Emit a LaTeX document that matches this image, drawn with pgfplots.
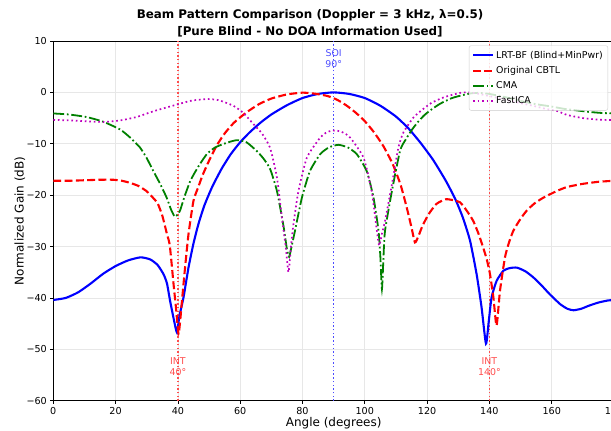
\documentclass[border=0pt]{standalone}
\usepackage{fontspec}
\setmainfont{DejaVu Sans}
\usepackage{pgfplots}
\pgfplotsset{compat=1.18}
\definecolor{mplgreen}{rgb}{0,0.5,0}
\definecolor{mplmag}{rgb}{0.75,0,0.75}
\definecolor{gridc}{HTML}{E7E7E7}
\definecolor{intred}{rgb}{1,0.3,0.3}
\definecolor{soiblue}{rgb}{0.3,0.3,1}
\begin{document}
\begin{tikzpicture}
\begin{axis}[
  at={(53.3pt,-400.7pt)}, anchor=south west,
  scale only axis, width=560.7pt, height=359.7pt,
  xmin=0, xmax=180, ymin=-60, ymax=10,
  xtick={0,20,...,180}, ytick={-60,-50,...,10},
  xticklabels={0,20,40,60,80,100,120,140,160,180},
  yticklabels={−60,−50,−40,−30,−20,−10,0,10},
  tick align=outside, xtick pos=bottom, ytick pos=left,
  major tick length=3pt,
  every tick/.style={black, line width=0.68pt},
  ticklabel style={font=\fontsize{9.6}{11}\selectfont},
  axis line style={line width=0.68pt},
  grid=major, major grid style={gridc, line width=0.68pt},
  xlabel={Angle (degrees)}, ylabel={Normalized Gain (dB)},
  label style={font=\fontsize{12}{14}\selectfont},
  xlabel style={at={(axis description cs:0.5,-0.0625)}, anchor=center},
  ylabel style={at={(axis description cs:-0.0595,0.5)}, anchor=center},
  legend cell align=left,
  legend style={at={(1,1)}, anchor=north east, xshift=-6pt, yshift=-4.5pt,
    font=\fontsize{9.4}{11}\selectfont, draw=black!20, fill=white,
    fill opacity=0.8, text opacity=1, rounded corners=2pt,
    nodes={inner ysep=3.3pt}},
  legend image code/.code={\draw[#1] (0pt,0pt) -- (20pt,0pt);},
]
% reference lines
\addplot[color=intred, line width=1.4pt, dash pattern=on 1.4pt off 2.3pt, forget plot] table {
x y
40 -60
40 10
};
\addplot[color=intred, line width=1.4pt, dash pattern=on 1.4pt off 2.3pt, forget plot] table {
x y
140 -60
140 10
};
\addplot[color=soiblue, line width=1.4pt, dash pattern=on 1.4pt off 2.3pt, forget plot] table {
x y
90 -60
90 10
};

\addplot[blue, line width=2.1pt, smooth, tension=0.35] coordinates {
(0,-40.4)(4,-40.0)(8,-38.9)(12,-37.2)(16,-35.3)(20,-33.8)(24,-32.7)(28,-32.1)
(31.1,-32.5)(33.5,-33.6)(35.4,-35.4)(36.5,-37.2)(37.5,-40.6)(38.8,-44.5)(39.7,-46.7)
(40.5,-43.5)(41.8,-39.9)(43.4,-34.1)(45,-29.4)(46.6,-25.6)(48.5,-22.0)(51,-18.4)
(54,-14.9)(57,-12.0)(60,-9.7)(63,-7.8)(66.5,-5.9)(70,-4.3)(75,-2.5)(80,-1.1)
(85,-0.3)(90,0)(95,-0.3)(100,-1.1)(105,-2.6)(110,-4.7)(114,-7.0)(118,-9.9)
(122,-13.2)(126,-17.2)(129,-20.7)(131.5,-24.4)(133.8,-28.9)(135.9,-35.4)(137.5,-41.9)(138.9,-48.9)
(139.8,-44.5)(140.7,-39.9)(142.3,-36.7)(144.5,-34.7)(146.5,-34.2)(148.8,-34.1)
(151.5,-34.8)(154.1,-36.0)(156.8,-37.6)(159.4,-39.3)(162.7,-41.2)(165,-42.1)(167,-42.4)
(169.5,-42.1)(172,-41.5)(175,-40.9)(178,-40.5)(180,-40.4)
};
\addlegendentry{LRT-BF (Blind+MinPwr)}

\addplot[red, line width=2.1pt, dash pattern=on 7.9pt off 3.4pt, smooth, tension=0.35] coordinates {
(0,-17.2)(5,-17.2)(10,-17.1)(15,-17.0)(19.2,-17.0)(22,-17.2)(24.6,-17.6)(27.3,-18.2)
(29.9,-19.2)(32,-20.5)(33.5,-21.6)(35,-24)(36.5,-27.6)(37.4,-29.8)(38.6,-37.3)
(39.4,-42)(40.2,-47)(40.8,-44)(41.3,-40.6)(42.3,-34.1)(43.4,-27.6)(45,-21.1)
(46.5,-18.5)(48,-16.0)(50,-13.3)(52.5,-10.3)(55,-8.0)(58,-5.9)(62,-3.9)(66,-2.3)
(70,-1.2)(75,-0.4)(80,-0.05)(84,-0.25)(88,-0.7)(91,-1.4)(94,-2.5)(97,-3.9)
(100,-5.6)(103,-7.8)(106,-10.5)(109,-14.0)(111.5,-18.0)(113.5,-22.5)(115,-26.3)
(116.1,-29.2)(117.2,-28.0)(118.5,-26.0)(120.5,-23.7)(123,-21.7)(126,-20.8)(128.5,-21.0)
(130.6,-21.4)(132.7,-23.0)(134.8,-25.0)(136.5,-27.5)(138,-30.2)(139.2,-32.6)(140.2,-35.4)
(141.3,-40)(142.3,-45.4)(143.4,-38.6)(145,-32.1)(146.3,-29.2)(147.7,-26.9)(150,-24.6)
(152,-23.0)(154.5,-21.6)(157.3,-20.5)(161.6,-19.2)(165,-18.4)(170,-17.8)(175,-17.4)(180,-17.2)
};
\addlegendentry{Original CBTL}

\addplot[mplgreen, line width=1.8pt, dash pattern=on 10.9pt off 2.7pt on 1.7pt off 2.7pt, smooth, tension=0.35] coordinates {
(0,-4.1)(5,-4.3)(10.7,-4.8)(16,-5.7)(21.4,-7.2)(24.5,-8.7)(27.8,-10.7)(30,-12.8)
(32.1,-15.3)(34.3,-17.8)(36.4,-20.5)(37.8,-22.8)(39,-24.2)(40,-23.7)(40.7,-23)
(42,-20.5)(44,-17.2)(46.5,-14.5)(49.3,-12.0)(52,-10.7)(55.7,-9.8)(58.9,-9.3)(62,-9.7)
(65.3,-11.4)(67.5,-12.9)(69.6,-14.9)(71.8,-19.2)(73.9,-26.0)(75.0,-30.5)(75.7,-32.0)
(76.5,-30)(77.6,-26.9)(79.8,-20.5)(82.4,-15.3)(85.7,-12.0)(88.5,-10.7)(91.5,-10.2)
(94.5,-10.7)(97.4,-12.0)(100.6,-15.3)(102.8,-20.5)(104.4,-26.9)(105.0,-32)(105.5,-38.3)
(106.0,-32)(106.5,-26.9)(108.7,-19.2)(111.3,-11.4)(113,-9.3)(115.1,-7.3)(117,-5.8)
(119,-4.5)(121,-3.5)(124.2,-2.2)(128,-1.1)(131.6,-0.5)(134.5,-0.15)(137,-0.1)(140,-0.3)
(143.4,-0.7)(147,-1.2)(151,-1.8)(155,-2.3)(159.4,-2.7)(164,-3.2)(168,-3.5)(172,-3.8)
(176,-4.0)(180,-4.1)
};
\addlegendentry{CMA}

\addplot[mplmag, line width=1.7pt, dash pattern=on 1.7pt off 2.8pt, smooth, tension=0.35] coordinates {
(0,-5.35)(5,-5.45)(10,-5.6)(16,-5.75)(21,-5.5)(26.7,-4.8)(32,-3.7)(36,-3.0)(40.1,-2.3)
(44.4,-1.6)(49.3,-1.3)(53,-1.5)(57.8,-2.6)(61,-4.0)(64.3,-6.2)(67,-8.0)(69.6,-10.8)
(71.8,-16.6)(73.4,-24.4)(74.6,-30)(75.5,-35)(76.3,-30)(77.1,-25.6)(78.7,-19.2)
(81.4,-12.7)(85.7,-8.8)(88,-7.7)(90.5,-7.4)(93,-7.8)(95.3,-8.8)(99.6,-12.7)(102.2,-19.2)
(103.6,-25.6)(104.6,-29.8)(105.5,-27.5)(106.5,-25.0)(108.7,-17.9)(110.8,-10.7)(112.4,-7.8)
(115.6,-4.9)(118.8,-3.2)(121.5,-2.0)(125.2,-1.0)(128.5,-0.4)(131.6,0)(135,-0.1)(139.1,-0.6)
(145,-1.4)(150,-2.1)(154,-2.6)(158,-3.2)(161.6,-3.6)(165,-4.4)(170,-5.0)(175,-5.3)(180,-5.4)
};
\addlegendentry{FastICA}

\node[intred, align=center, font=\fontsize{9.4}{11}\selectfont] at (axis cs:40,-53.4) {INT\\40°};
\node[intred, align=center, font=\fontsize{9.4}{11}\selectfont] at (axis cs:140,-53.4) {INT\\140°};
\node[soiblue, align=center, font=\fontsize{9.4}{11}\selectfont] at (axis cs:90,6.6) {SOI\\90°};
\end{axis}
\node[align=center, font=\bfseries\fontsize{11.9}{16.7}\selectfont] at (310pt,-23.3pt)
  {Beam Pattern Comparison (Doppler = 3 kHz, λ=0.5)\\{}[Pure Blind - No DOA Information Used]};
\pgfresetboundingbox
\path[use as bounding box] (0pt,0pt) rectangle (611pt,-431pt);
\end{tikzpicture}
\end{document}
